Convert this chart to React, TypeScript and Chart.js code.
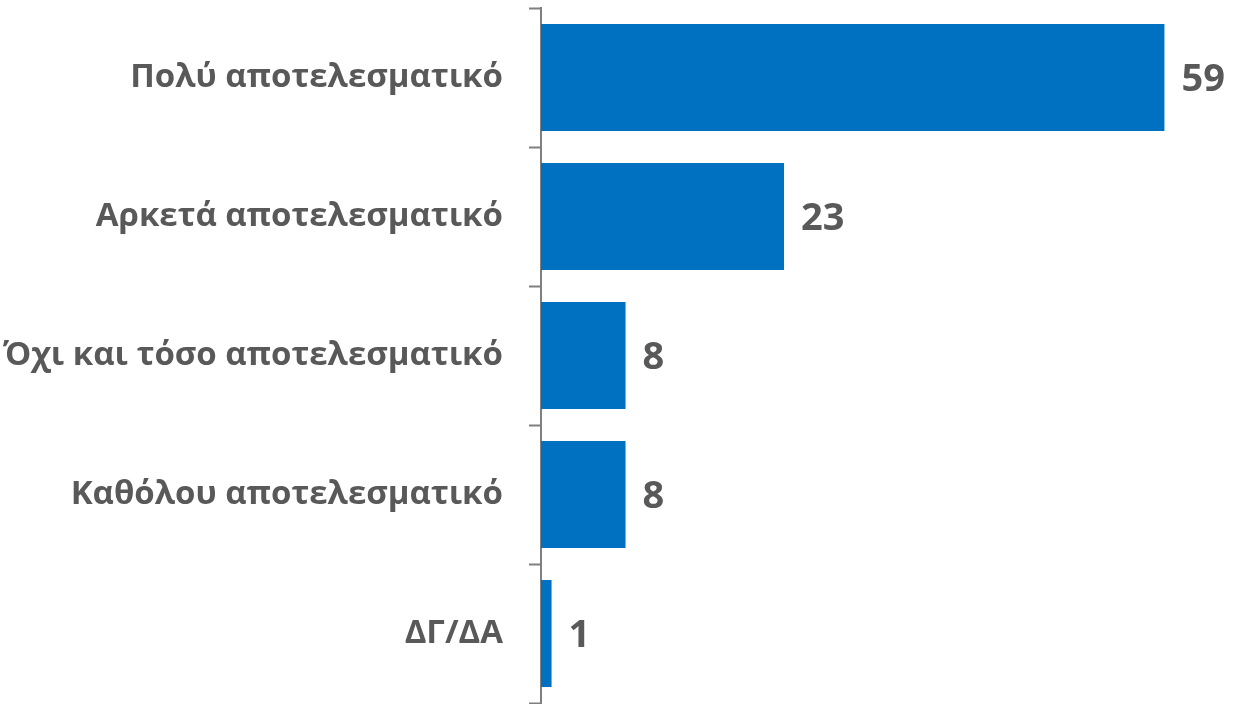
import React, { useEffect, useRef } from "react";
import { Chart, registerables } from "chart.js";

Chart.register(...registerables);

const categories = [
  "Πολύ αποτελεσματικό",
  "Αρκετά αποτελεσματικό",
  "Όχι και τόσο αποτελεσματικό",
  "Καθόλου αποτελεσματικό",
  "ΔΓ/ΔΑ",
];
const values = [59, 23, 8, 8, 1];

const BAR_COLOR = "#0070C0";
const TEXT_COLOR = "#595959";
const AXIS_COLOR = "#7f7f7f";
const FONT = "'Open Sans', 'Noto Sans', sans-serif";

const valueLabels = {
  id: "valueLabels",
  afterDatasetsDraw(chart: any) {
    const ctx = chart.ctx;
    const meta = chart.getDatasetMeta(0);
    ctx.save();
    ctx.fillStyle = TEXT_COLOR;
    ctx.font = `bold 38px ${FONT}`;
    ctx.textAlign = "left";
    ctx.textBaseline = "middle";
    meta.data.forEach((bar: any, i: number) => {
      ctx.fillText(String(values[i]), bar.x + 17, bar.y + 3);
    });
    ctx.restore();
  },
};

export default function App() {
  const ref = useRef<HTMLCanvasElement | null>(null);
  useEffect(() => {
    document.body.style.margin = "0";
    const chart = new Chart(ref.current as HTMLCanvasElement, {
      type: "bar",
      data: {
        labels: categories,
        datasets: [
          {
            data: values,
            backgroundColor: BAR_COLOR,
            categoryPercentage: 1,
            barPercentage: 0.77,
          },
        ],
      },
      options: {
        indexAxis: "y",
        animation: false,
        responsive: false,
        layout: { padding: { top: 8, right: 60, bottom: 1, left: 0 } },
        plugins: { legend: { display: false }, tooltip: { enabled: false } },
        scales: {
          x: { display: false, min: 0, max: 60 },
          y: {
            afterFit: (scale: any) => {
              scale.width = 541;
              scale.paddingTop = 0;
              scale.paddingBottom = 0;
            },
            border: { color: AXIS_COLOR, width: 2 },
            grid: {
              offset: true,
              drawOnChartArea: false,
              tickLength: 12,
              tickWidth: 2,
              tickColor: AXIS_COLOR,
            },
            ticks: {
              color: TEXT_COLOR,
              padding: 26,
              font: { family: FONT, size: 33, weight: "bold" },
            },
          },
        },
      },
      plugins: [valueLabels],
    });
    return () => chart.destroy();
  }, []);
  return <canvas ref={ref} width={1235} height={704} style={{ display: "block" }} />;
}
